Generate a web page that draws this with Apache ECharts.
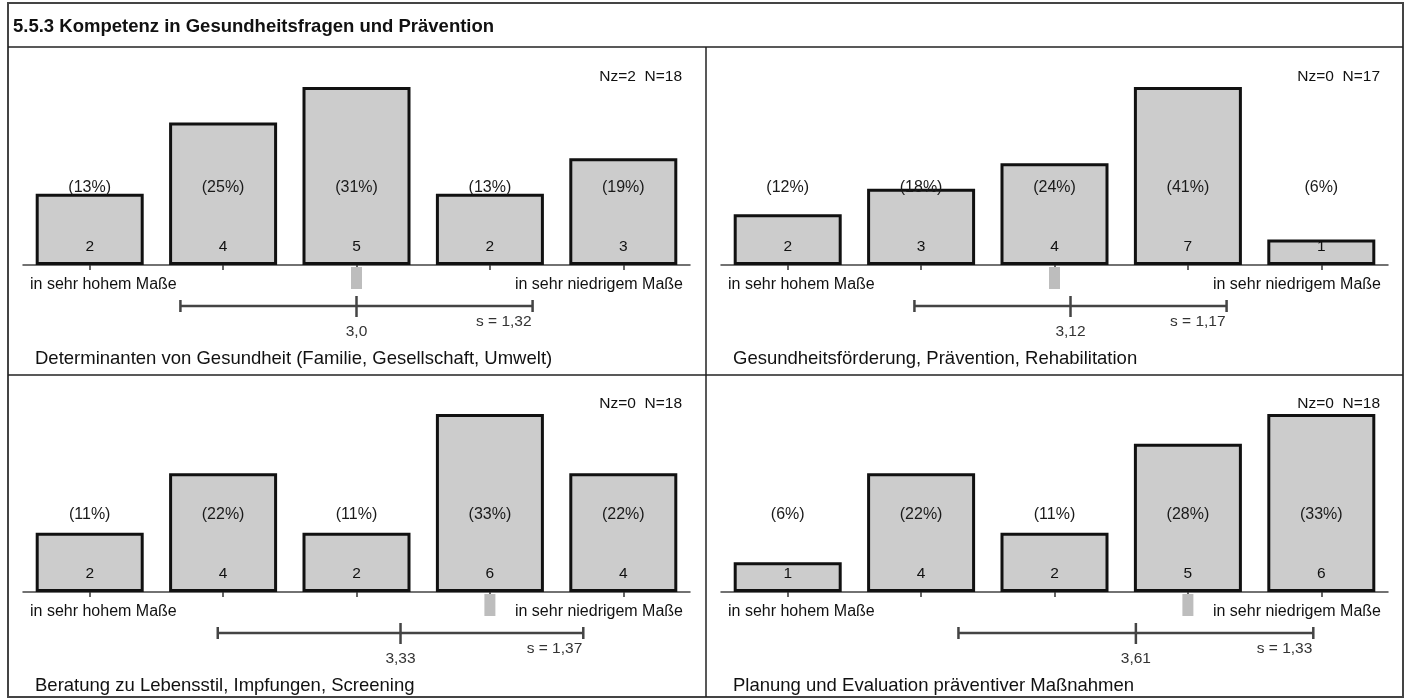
<!DOCTYPE html>
<html><head><meta charset="utf-8">
<script src="https://cdn.jsdelivr.net/npm/echarts@6/dist/echarts.min.js"></script>
<style>html,body{margin:0;padding:0;background:#fff}#c{width:1407px;height:700px}</style>
</head><body><div id="c"></div>
<script>
const mainTitle = '5.5.3 Kompetenz in Gesundheitsfragen und Prävention';
const panelTitles = [
  'Determinanten von Gesundheit (Familie, Gesellschaft, Umwelt)',
  'Gesundheitsförderung, Prävention, Rehabilitation',
  'Beratung zu Lebensstil, Impfungen, Screening',
  'Planung und Evaluation präventiver Maßnahmen'
];
const categories = ['1', '2', '3', '4', '5'];
const scaleLow = 'in sehr hohem Maße';
const scaleHigh = 'in sehr niedrigem Maße';
const counts1 = [2, 4, 5, 2, 3];
const counts2 = [2, 3, 4, 7, 1];
const counts3 = [2, 4, 2, 6, 4];
const counts4 = [1, 4, 2, 5, 6];
const percents1 = [13, 25, 31, 13, 19];
const percents2 = [12, 18, 24, 41, 6];
const percents3 = [11, 22, 11, 33, 22];
const percents4 = [6, 22, 11, 28, 33];
const nzValues = [2, 0, 0, 0];
const nValues = [18, 17, 18, 18];
const means = [3.0, 3.12, 3.33, 3.61];
const meanLabels = ['3,0', '3,12', '3,33', '3,61'];
const sds = [1.32, 1.17, 1.37, 1.33];
const sdLabels = ['1,32', '1,17', '1,37', '1,33'];
const medians = [3, 3, 4, 4];

const allCounts = [counts1, counts2, counts3, counts4];
const allPercents = [percents1, percents2, percents3, percents4];

const FONT = "'Liberation Sans', Arial, Helvetica, sans-serif";
const PW = 698, PH = 327;
const GL = 23, GT = 87, GW = 667, GH = 178;

const grids = [], xAxes = [], yAxes = [], series = [], graphics = [];

for (let i = 0; i < 4; i++) {
  const c = i % 2, r = Math.floor(i / 2);
  const left = GL + c * PW, top = GT + r * PH;
  grids.push({left: left, top: top, width: GW, height: GH});
  xAxes.push({
    type: 'category', gridIndex: i, data: categories,
    axisLine: {lineStyle: {color: '#444', width: 1.5}},
    axisTick: {show: true, alignWithLabel: true, length: 5, lineStyle: {color: '#333', width: 1.5}},
    axisLabel: {show: false}, splitLine: {show: false}
  });
  xAxes.push({type: 'value', gridIndex: i, min: 0.5, max: 5.5, show: false});
  yAxes.push({type: 'value', gridIndex: i, min: 0, max: Math.max(...allCounts[i]), show: false});

  series.push({
    type: 'bar', xAxisIndex: 2 * i, yAxisIndex: i, data: allCounts[i], barWidth: 108,
    itemStyle: {color: '#cccccc', borderColor: '#111', borderWidth: 3},
    label: {show: true, position: 'insideBottom', distance: 10, formatter: '{c}',
      fontFamily: FONT, fontSize: 15.5, color: '#111'},
    z: 3
  });

  series.push({
    type: 'custom', xAxisIndex: 2 * i, yAxisIndex: i,
    encode: {x: 0, y: 1},
    data: allPercents[i].map((v, k) => [k, 0, v]),
    renderItem: function (params, api) {
      const p = api.coord([api.value(0), 0]);
      return {type: 'text', x: p[0], y: p[1] - 77.5, z2: 10,
        style: {text: '(' + api.value(2) + '%)', align: 'center', verticalAlign: 'middle',
          font: '16px ' + FONT, fill: '#1a1a1a'}};
    },
    z: 5
  });

  const idx = i;
  series.push({
    type: 'custom', xAxisIndex: 2 * i + 1, yAxisIndex: i,
    encode: {x: 0, y: 1},
    data: [[means[i], 0, sds[i], medians[i]]],
    renderItem: function (params, api) {
      const m = api.value(0), s = api.value(2), med = api.value(3);
      const base = api.coord([m, 0]);
      const ay = base[1];
      const xm = base[0];
      const xl = api.coord([m - s, 0])[0];
      const xr = api.coord([m + s, 0])[0];
      const xmed = api.coord([med, 0])[0];
      const ly = ay + 41;
      const ls = {stroke: '#444', lineWidth: 2.5};
      return {type: 'group', children: [
        {type: 'rect', shape: {x: xmed - 5.5, y: ay + 2, width: 11, height: 22}, style: {fill: '#bdbdbd'}},
        {type: 'line', shape: {x1: xl, y1: ly, x2: xr, y2: ly}, style: ls},
        {type: 'line', shape: {x1: xl, y1: ly - 6, x2: xl, y2: ly + 6}, style: ls},
        {type: 'line', shape: {x1: xr, y1: ly - 6, x2: xr, y2: ly + 6}, style: ls},
        {type: 'line', shape: {x1: xm, y1: ly - 10, x2: xm, y2: ly + 11}, style: ls},
        {type: 'text', x: xm, y: ay + 66.5, style: {text: meanLabels[idx], align: 'center', verticalAlign: 'middle', font: '15.5px ' + FONT, fill: '#333'}},
        {type: 'text', x: xr - 1, y: ay + 56.5, style: {text: 's = ' + sdLabels[idx], align: 'right', verticalAlign: 'middle', font: '15.5px ' + FONT, fill: '#333'}}
      ]};
    },
    z: 4
  });

  const axisY = top + GH;
  graphics.push({type: 'text', x: left + 7, y: axisY + 20,
    style: {text: scaleLow, align: 'left', verticalAlign: 'middle', font: '16px ' + FONT, fill: '#111'}});
  graphics.push({type: 'text', x: left + GW - 7, y: axisY + 20,
    style: {text: scaleHigh, align: 'right', verticalAlign: 'middle', font: '16px ' + FONT, fill: '#111'}});
  graphics.push({type: 'text', x: left + GW - 8, y: top - 10,
    style: {text: 'Nz=' + nzValues[i] + '  N=' + nValues[i], align: 'right', verticalAlign: 'middle', font: '15.5px ' + FONT, fill: '#111'}});
  graphics.push({type: 'text', x: left + 12, y: axisY + 94,
    style: {text: panelTitles[i], align: 'left', verticalAlign: 'middle', font: '18.5px ' + FONT, fill: '#111'}});
}

graphics.push({type: 'rect', shape: {x: 8, y: 3, width: 1395, height: 694}, style: {fill: 'none', stroke: '#444', lineWidth: 2}, z: 100});
graphics.push({type: 'line', shape: {x1: 8, y1: 47, x2: 1403, y2: 47}, style: {stroke: '#222', lineWidth: 1.5}, z: 100});
graphics.push({type: 'line', shape: {x1: 706, y1: 47, x2: 706, y2: 697}, style: {stroke: '#222', lineWidth: 1.5}, z: 100});
graphics.push({type: 'line', shape: {x1: 8, y1: 375, x2: 1403, y2: 375}, style: {stroke: '#222', lineWidth: 1.5}, z: 100});
graphics.push({type: 'text', x: 13, y: 26.5, style: {text: mainTitle, align: 'left', verticalAlign: 'middle', font: 'bold 18.5px ' + FONT, fill: '#111'}, z: 100});

const chart = echarts.init(document.getElementById('c'), null, {renderer: 'canvas'});
chart.setOption({
  animation: false,
  grid: grids, xAxis: xAxes, yAxis: yAxes, series: series, graphic: graphics
});
</script></body></html>
